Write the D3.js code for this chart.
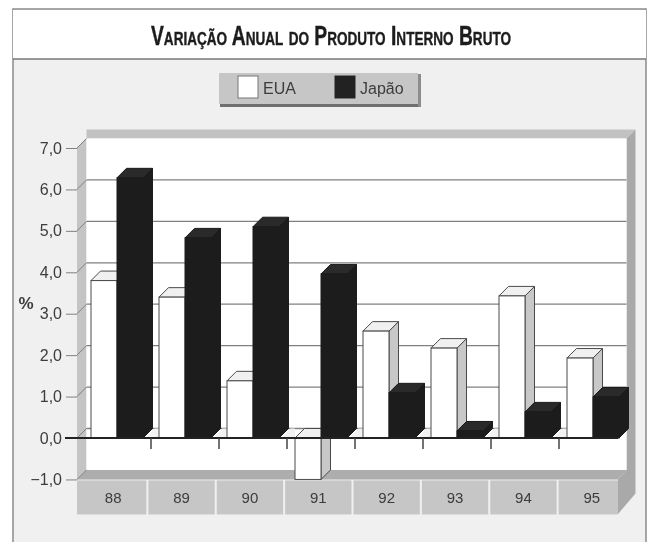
<!DOCTYPE html>
<html lang="pt">
<head>
    <meta charset="UTF-8">
    <title>Variação Anual do Produto Interno Bruto</title>
    <script src="https://cdn.jsdelivr.net/npm/d3@7"></script>
    <style>
        body { margin: 0; background: #fff; }
        svg { display: block; }
        text { font-family: "Liberation Sans", Arial, sans-serif; fill: #3c3c3c; }
    </style>
</head>
<body>
    <svg id="chart" width="647" height="542"></svg>
    <script>
        const years = ['88', '89', '90', '91', '92', '93', '94', '95'];
        const eua = [3.8, 3.4, 1.38, -1.0, 2.58, 2.17, 3.43, 1.93];
        const japao = [6.28, 4.83, 5.1, 3.96, 1.09, 0.17, 0.63, 0.99];
        const yTicks = [-1, 0, 1, 2, 3, 4, 5, 6, 7];
        const legendItems = ['EUA', 'Japão'];

        const depthX = 9.5, depthY = 9.5;

        const svg = d3.select('#chart');
        svg.append('defs').append('filter').attr('id', 'soft')
            .append('feGaussianBlur').attr('stdDeviation', 0.75);
        const root = svg.append('g').attr('filter', 'url(#soft)');

        const y = d3.scaleLinear().domain([0, 7]).range([438, 148]);
        const x = d3.scaleBand().domain(years).range([83, 627]);
        const xLabels = d3.scaleBand().domain(years).range([79, 626]);
        const bar = d3.scaleBand().domain(['eua', 'japao']).range([8, 60]);

        function poly(points, fill, stroke, sw) {
            return root.append('polygon')
                .attr('points', points.map(p => p.join(',')).join(' '))
                .attr('fill', fill)
                .attr('stroke', stroke || 'none')
                .attr('stroke-width', sw || 0);
        }

        // frame and title
        root.append('rect').attr('x', 13).attr('y', 9).attr('width', 633).attr('height', 540)
            .attr('fill', '#f0f0f0').attr('stroke', '#8a8a8a').attr('stroke-width', 1.5);
        root.append('rect').attr('x', 13).attr('y', 10).attr('width', 633).attr('height', 49)
            .attr('fill', '#fff');
        root.append('line').attr('x1', 13).attr('x2', 646).attr('y1', 59).attr('y2', 59)
            .attr('stroke', '#777').attr('stroke-width', 1.5);
        root.append('text')
            .attr('x', 331).attr('y', 45)
            .attr('text-anchor', 'middle')
            .attr('textLength', 360)
            .attr('lengthAdjust', 'spacingAndGlyphs')
            .style('font-family', '"Liberation Sans Narrow", "Liberation Sans", sans-serif')
            .style('font-size', '27px')
            .style('font-weight', 'bold')
            .style('font-variant', 'small-caps')
            .style('fill', '#1c1c1c')
            .style('stroke', '#1c1c1c')
            .style('stroke-width', '0.4px')
            .text('Variação Anual do Produto Interno Bruto');

        // legend
        root.append('rect').attr('x', 220).attr('y', 100).attr('width', 201).attr('height', 7).attr('fill', '#6f6f6f');
        root.append('rect').attr('x', 418).attr('y', 74).attr('width', 3).attr('height', 33).attr('fill', '#8c8c8c');
        root.append('rect').attr('x', 219).attr('y', 73).attr('width', 199).attr('height', 31).attr('fill', '#c6c6c6');
        const legendX = d3.scalePoint().domain(legendItems).range([238, 335]);
        legendItems.forEach((name, i) => {
            root.append('rect')
                .attr('x', legendX(name)).attr('y', 76).attr('width', 20).attr('height', 22)
                .attr('fill', i === 0 ? '#fff' : '#222')
                .attr('stroke', i === 0 ? '#777' : '#222');
            root.append('text')
                .attr('x', legendX(name) + 25).attr('y', 94)
                .style('font-size', '16px')
                .text(name);
        });

        // 3d box behind the bars
        const plotLeft = 77, plotRight = 618, plotBottom = y(-1), plotTop = y(7);
        const wallL = plotLeft + depthX, wallR = plotRight + 8.5, wallT = plotTop - depthY, wallB = plotBottom - depthY;
        poly([[wallL, wallT - 9], [wallR + 9, wallT - 9], [wallR, wallT], [wallL, wallT]], '#c2c2c2');
        poly([[wallR, wallT], [wallR + 9, wallT - 9], [wallR + 9, plotBottom + 14], [plotRight, 514], [plotRight, plotBottom], [wallR, wallB]], '#a9a9a9');
        poly([[plotLeft, plotTop], [wallL, wallT], [wallL, wallB], [plotLeft, plotBottom]], '#c4c4c4');
        root.append('rect').attr('x', wallL).attr('y', wallT).attr('width', wallR - wallL).attr('height', wallB - wallT)
            .attr('fill', '#fff');
        poly([[plotLeft, plotBottom], [wallL, wallB], [wallR, wallB], [plotRight, plotBottom]], '#adadad');

        // category strips
        years.forEach((d, i) => {
            const x0 = i === 0 ? plotLeft : xLabels(d) + 1;
            const x1 = Math.min(xLabels(d) + xLabels.bandwidth() - 1, plotRight);
            root.append('rect')
                .attr('x', x0).attr('y', plotBottom + 1)
                .attr('width', x1 - x0).attr('height', 34)
                .attr('fill', '#c6c6c6');
        });

        // gridlines on the back wall, joined to the axis by a short diagonal
        yTicks.forEach(t => {
            if (t === 7 || t === -1) return;
            root.append('line')
                .attr('x1', wallL).attr('x2', wallR)
                .attr('y1', y(t) - depthY).attr('y2', y(t) - depthY)
                .attr('stroke', '#808080').attr('stroke-width', 1.3);
        });
        yTicks.forEach(t => {
            root.append('line')
                .attr('x1', plotLeft).attr('x2', wallL)
                .attr('y1', y(t)).attr('y2', y(t) - depthY)
                .attr('stroke', '#808080');
        });

        // y axis
        const yAxis = root.append('g')
            .attr('transform', `translate(${plotLeft},0)`)
            .call(d3.axisLeft(y)
                .tickValues(yTicks)
                .tickSize(11)
                .tickPadding(4)
                .tickFormat(d => d3.format('.1f')(d).replace('.', ',')));
        yAxis.select('.domain').remove();
        yAxis.selectAll('line').attr('stroke', '#808080');
        yAxis.selectAll('text').style('font-size', '16px');

        root.append('text')
            .attr('x', 26).attr('y', 309)
            .attr('text-anchor', 'middle')
            .style('font-size', '17px')
            .style('font-weight', 'bold')
            .text('%');

        // white floor showing through the gaps between the groups
        years.forEach(d => {
            const gx = x(d) + bar('japao') + bar.bandwidth();
            if (d === '95') return;
            poly([[gx + 2, y(0)], [gx + 2 + depthX, y(0) - depthY], [gx + 16, y(0) - depthY], [gx + 16, y(0)]], '#f2f2f2');
        });

        // one bar: front, side and top faces
        function drawBar(xPos, value, colors) {
            const w = bar.bandwidth();
            const yTop = y(Math.max(value, 0));
            const yBase = y(Math.min(value, 0));
            const line = colors.line;
            poly([[xPos + w, yTop], [xPos + w + depthX, yTop - depthY], [xPos + w + depthX, yBase - depthY], [xPos + w, yBase]], colors.side, line, 1);
            poly([[xPos, yTop], [xPos + depthX, yTop - depthY], [xPos + w + depthX, yTop - depthY], [xPos + w, yTop]], colors.top, line, 1);
            root.append('rect')
                .attr('x', xPos).attr('y', yTop)
                .attr('width', w).attr('height', yBase - yTop)
                .attr('fill', colors.front).attr('stroke', line);
        }

        const euaColors = { front: '#fff', side: '#c8c8c8', top: '#f0f0f0', line: '#4a4a4a' };
        const japaoColors = { front: '#1f1f1f', side: '#1a1a1a', top: '#2b2b2b', line: '#1a1a1a' };

        years.forEach((d, i) => {
            drawBar(x(d) + bar('eua'), eua[i], euaColors);
            drawBar(x(d) + bar('japao'), japao[i], japaoColors);
        });

        // zero line and ticks between groups
        root.append('line')
            .attr('x1', 65).attr('x2', plotRight)
            .attr('y1', y(0)).attr('y2', y(0))
            .attr('stroke', '#222').attr('stroke-width', 2);
        years.slice(1).forEach(d => {
            root.append('line')
                .attr('x1', x(d)).attr('x2', x(d))
                .attr('y1', y(0)).attr('y2', y(0) + 11)
                .attr('stroke', '#444').attr('stroke-width', 1.5);
        });

        // category labels
        const xAxis = root.append('g')
            .attr('transform', `translate(0,${plotBottom + 10})`)
            .call(d3.axisBottom(xLabels).tickSize(0).tickPadding(3));
        xAxis.select('.domain').remove();
        xAxis.selectAll('text').style('font-size', '15px');
    </script>
</body>
</html>
